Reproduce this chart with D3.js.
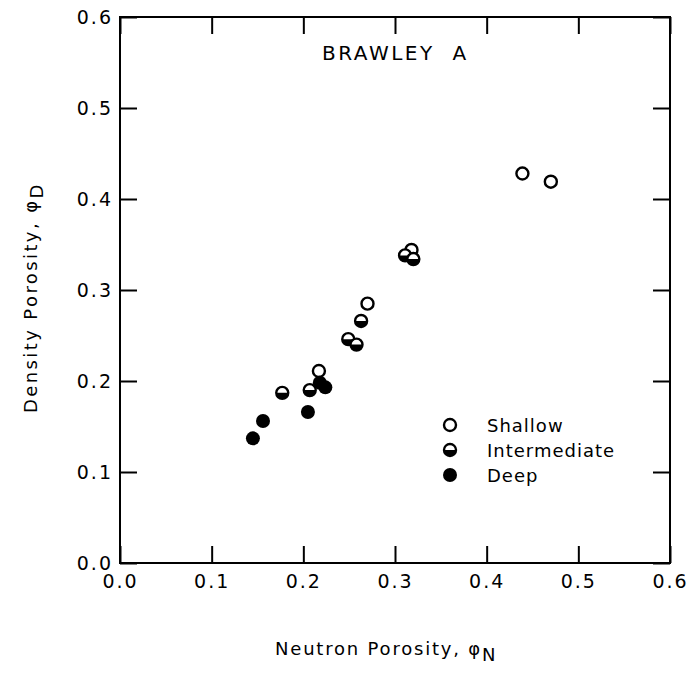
<!DOCTYPE html>
<meta charset="utf-8">
<script src="https://d3js.org/d3.v7.min.js"></script>
<style>
body { margin: 0; background: #fff; }
text { font-family: "DejaVu Sans", sans-serif; fill: #000; }
.axis path { display: none; }
.axis line { stroke: #000; stroke-width: 2; }
.axis text { font-size: 19px; letter-spacing: 2px; }
</style>
<svg id="chart" width="690" height="674"></svg>
<script>
// data: [neutron porosity, density porosity]
var shallow = [[0.270, 0.285], [0.217, 0.211], [0.318, 0.344], [0.439, 0.428], [0.470, 0.419]];
var intermediate = [[0.263, 0.266], [0.249, 0.246], [0.258, 0.240], [0.207, 0.190],
                    [0.177, 0.187], [0.311, 0.338], [0.320, 0.334]];
var deep = [[0.218, 0.198], [0.224, 0.193], [0.205, 0.166], [0.156, 0.156], [0.145, 0.137]];
var ticks = [0, 0.1, 0.2, 0.3, 0.4, 0.5, 0.6];
var keys = ["Shallow", "Intermediate", "Deep"];

var svg = d3.select("#chart");
var plotLeft = 120, plotRight = 670, plotTop = 17, plotBottom = 563;

var x = d3.scaleLinear().domain([0, 0.6]).range([plotLeft, plotRight]);
var y = d3.scaleLinear().domain([0, 0.6]).range([plotBottom, plotTop]);
var fmt = d3.format(".1f");

// axes, ticks pointing inward on all four sides
svg.append("g").attr("class", "axis")
    .attr("transform", "translate(0," + plotBottom + ")")
    .call(d3.axisBottom(x).tickValues(ticks).tickSize(-17).tickPadding(12).tickFormat(fmt));
svg.append("g").attr("class", "axis")
    .attr("transform", "translate(" + plotLeft + ",0)")
    .call(d3.axisLeft(y).tickValues(ticks).tickSize(-17).tickPadding(7).tickFormat(fmt));
svg.append("g").attr("class", "axis")
    .attr("transform", "translate(0," + plotTop + ")")
    .call(d3.axisTop(x).tickValues(ticks).tickSize(-17).tickFormat(""));
svg.append("g").attr("class", "axis")
    .attr("transform", "translate(" + plotRight + ",0)")
    .call(d3.axisRight(y).tickValues(ticks).tickSize(-17).tickFormat(""));

svg.append("rect")
    .attr("x", plotLeft).attr("y", plotTop)
    .attr("width", plotRight - plotLeft).attr("height", plotBottom - plotTop)
    .attr("fill", "none").attr("stroke", "#000").attr("stroke-width", 2);

// markers
var r = 6;
var lowerHalf = d3.arc().innerRadius(0).outerRadius(r).startAngle(Math.PI / 2).endAngle(3 * Math.PI / 2);

function drawMarker(g, kind) {
  if (kind === "Deep") {
    g.append("circle").attr("r", r + 1).attr("fill", "#000");
  } else {
    g.append("circle").attr("r", r).attr("fill", "#fff").attr("stroke", "#000").attr("stroke-width", 2.4);
    if (kind === "Intermediate") {
      g.append("path").attr("d", lowerHalf).attr("fill", "#000");
    }
  }
}

var series = [["Shallow", shallow], ["Intermediate", intermediate], ["Deep", deep]];
series.forEach(function(s) {
  svg.append("g").selectAll("g")
    .data(s[1])
    .enter().append("g")
      .attr("transform", function(d) { return "translate(" + x(d[0]) + "," + y(d[1]) + ")"; })
      .each(function() { drawMarker(d3.select(this), s[0]); });
});

// legend
var leg = svg.append("g");
keys.forEach(function(k, i) {
  var cy = 425 + i * 25;
  drawMarker(leg.append("g").attr("transform", "translate(450," + cy + ")"), k);
  leg.append("text")
    .attr("x", 487).attr("y", cy + 7)
    .style("font-size", "18px").style("letter-spacing", "1px")
    .text(k);
});

// title inside plot
svg.append("text")
  .attr("x", 322).attr("y", 60)
  .style("font-size", "20px").style("letter-spacing", "2.5px")
  .style("white-space", "pre")
  .text("BRAWLEY  A");

// axis titles
var xt = svg.append("text")
  .attr("x", 275).attr("y", 655)
  .style("font-size", "18px").style("letter-spacing", "1.8px");
xt.append("tspan").text("Neutron Porosity, \u03C6");
xt.append("tspan").attr("dy", 6).text("N");

var yt = svg.append("text")
  .attr("transform", "translate(37,413) rotate(-90)")
  .style("font-size", "18px").style("letter-spacing", "2.4px");
yt.append("tspan").text("Density Porosity, \u03C6");
yt.append("tspan").attr("dy", 6).text("D");
</script>
